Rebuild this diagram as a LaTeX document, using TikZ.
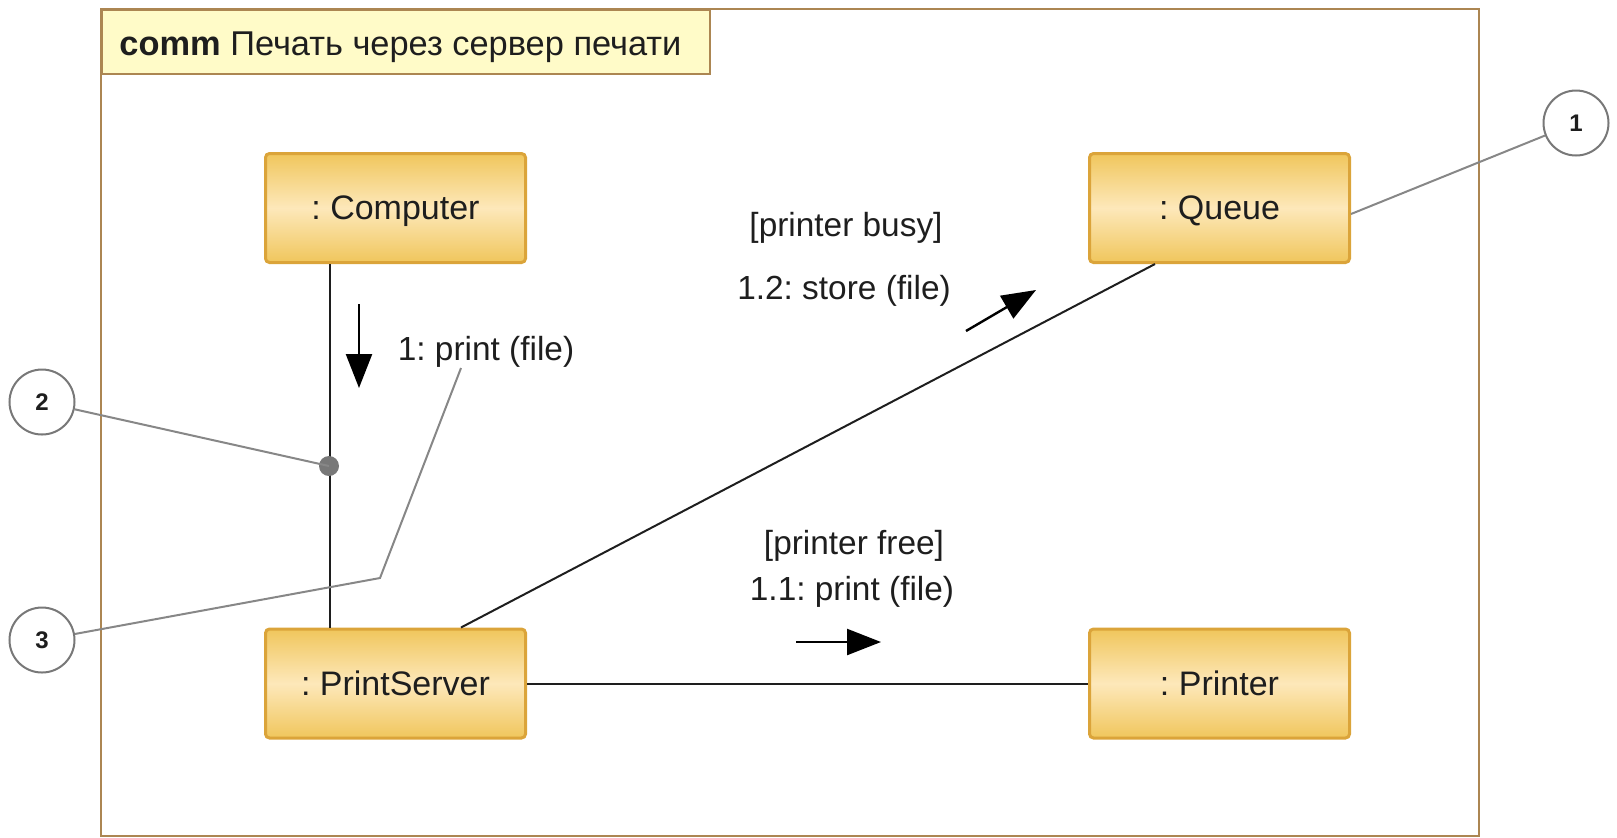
\documentclass[tikz,border=0pt]{standalone}
\usepackage{fontspec}
\setmainfont{Liberation Sans}
\usetikzlibrary{arrows.meta,calc}
\definecolor{framebrown}{RGB}{172,134,82}
\definecolor{tabfill}{RGB}{255,251,200}
\definecolor{goldedge}{RGB}{240,198,92}
\definecolor{goldmid}{RGB}{253,232,186}
\definecolor{goldline}{RGB}{219,164,58}
\definecolor{notegray}{RGB}{135,135,135}
\definecolor{circgray}{RGB}{120,120,120}
\definecolor{ink}{RGB}{30,30,30}
\frenchspacing
\begin{document}
\begin{tikzpicture}[x=0.5pt,y=-0.5pt,
  lifeline/.style={draw=goldline,line width=1.5pt,rounded corners=2pt,
    top color=goldedge,bottom color=goldedge,middle color=goldmid,
    minimum width=130pt,minimum height=54.5pt,inner sep=0pt,
    text depth=0pt,font=\fontsize{17}{20}\selectfont,text=ink},
  link/.style={draw=ink,line width=1pt},
  msg/.style={draw=black,line width=1.2pt,-{Triangle[length=17pt,width=13pt]}},
  msglabel/.style={font=\fontsize{16.7}{20}\selectfont,text=ink,inner sep=0pt},
  note/.style={draw=notegray,line width=1pt},
  callout/.style={circle,draw=circgray,line width=1pt,fill=white,
    minimum size=32.5pt,inner sep=0pt,font=\bfseries\fontsize{12}{14}\selectfont,text=ink}
]
\useasboundingbox (0,0) rectangle (1617,837);

% diagram frame and its name tab
\draw[framebrown,line width=1pt] (101,9) rectangle (1479,836);
\node[draw=framebrown,line width=1pt,fill=tabfill,anchor=north west,
  minimum width=304pt,minimum height=32pt,inner sep=0pt] (tab) at (101,9) {};
\node[anchor=west,inner sep=0pt,font=\fontsize{17.2}{20}\selectfont,text=ink]
  (title) at (119,47) {\textbf{comm} Печать через сервер печати};

% participants
\node[lifeline] (comp)  at (395.5,208)   {: Computer};
\node[lifeline] (queue) at (1219.5,208)  {: Queue};
\node[lifeline] (ps)    at (395.5,683.5) {: PrintServer};
\node[lifeline] (prn)   at (1219.5,683.5){: Printer};

% links between participants
\coordinate (lx) at (330,0);
\coordinate (qx) at (1155,0);
\coordinate (px) at (461,0);
\draw[link] (comp.south -| lx) -- (ps.north -| lx);
\draw[link] (ps.north -| px) -- (queue.south -| qx);
\draw[link] (ps.east) -- (prn.west);

% messages
\coordinate (m1a) at (359,304);
\coordinate (m1b) at (359,388);
\draw[msg] (m1a) -- (m1b);
\node[msglabel] (l1) at (486,352) {1: print (file)};

\coordinate (m12a) at (966,331);
\coordinate (m12b) at (1036,290);
\draw[msg] (m12a) -- (m12b);
\node[msglabel] (g12) at (846,228) {[printer busy]};
\node[msglabel] (l12) at (844,291) {1.2: store (file)};

\coordinate (m11a) at (796,642);
\coordinate (m11b) at (881,642);
\draw[msg] (m11a) -- (m11b);
\node[msglabel] (g11) at (854,546) {[printer free]};
\node[msglabel] (l11) at (852,592) {1.1: print (file)};

% numbered callouts
\node[circle,fill=circgray,minimum size=10pt,inner sep=0pt] (dot) at (329,466) {};
\node[callout] (c1) at (1576,123) {1};
\node[callout] (c2) at (42,402) {2};
\node[callout] (c3) at (42,640) {3};
\coordinate (qnote) at ($(queue.east)+(0,6)$);
\coordinate (bend3) at (380,578);
\coordinate (end3) at (461,368);
\draw[note] (qnote) -- (c1);
\draw[note] (c2) -- (dot.center);
\draw[note] (c3) -- (bend3) -- (end3);
\end{tikzpicture}
\end{document}
